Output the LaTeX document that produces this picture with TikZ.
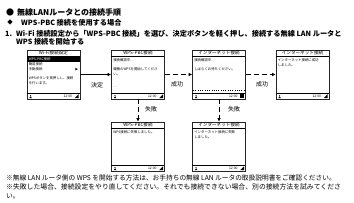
\documentclass[tikz,border=0pt]{standalone}
\usepackage{fontspec}
\setmainfont{Noto Sans CJK JP}
\usetikzlibrary{arrows.meta,calc}
\tikzset{
  scrbox/.style={draw=black!85, line width=0.8pt, minimum width=53pt, minimum height=49pt, inner sep=0pt, fill=white},
  stxt/.style={anchor=west, inner sep=0pt, font=\fontsize{3.4}{3.4}\selectfont},
  stitle/.style={inner sep=0pt, font=\fontsize{4.6}{4.6}\selectfont},
  hdr/.style={anchor=west, inner sep=0pt, font=\bfseries\fontsize{7.2}{7.2}\selectfont},
  foot/.style={anchor=west, inner sep=0pt, font=\fontsize{6.7}{6.7}\selectfont},
  lbl/.style={font=\fontsize{6}{6}\selectfont, inner sep=0pt},
  conn/.style={line width=0.9pt, -{Latex[length=3.5pt,width=3.5pt]}},
  dconn/.style={conn, dash pattern=on 5pt off 3pt},
}
% #1 name, #2 x centre, #3 y top, #4 title
\newcommand\mkscreen[4]{%
  \node[scrbox] (#1) at (#2,#3+24.5) {};
  \draw[line width=0.5pt] (#1.north west) ++(0,7) -- ++(53,0);
  \node[stitle] (#1-title) at ($(#1.north)+(0,3.6)$) {#4};
  \draw[line width=0.4pt] (#1.south west) ++(0,-6.5) -- ++(53,0);
  \fill ($(#1.south west)+(4,-3.6)$) circle (0.7pt);
  \fill ($(#1.south west)+(2.6,-1.2)$) -- ++(2.8,0) -- ++(-1.4,-1.8) -- cycle;
  \node[stxt] (#1-time) at ($(#1.south east)+(-17,-3.2)$) {12:00};
}
\newcommand\sigicon[1]{%
  \fill ($(#1.south east)+(-1.8,-1.2)$) -- ++(0,-4) -- ++(-4,4) -- cycle;
}
\begin{document}
\begin{tikzpicture}[x=1pt,y=-1pt]
\useasboundingbox (0,0) rectangle (354,202);
\fill[white] (0,0) rectangle (354,202);

% header
\node[anchor=west, inner sep=0pt, font=\bfseries\fontsize{8}{8}\selectfont] (h1) at (6,12.7) {●\hspace{3pt}無線LANルータとの接続手順};
\node[inner sep=0pt, font=\fontsize{5.5}{5.5}\selectfont] (h2a) at (10,22.7) {◆};
\node[hdr] (h2) at (21,22.7) {WPS-PBC 接続を使用する場合};
\node[hdr, anchor=base west] (h3a) at (5,36) {1.};
\node[hdr, anchor=base west] (h3) at (16,36) {Wi-Fi 接続設定から「WPS-PBC 接続」を選び、決定ボタンを軽く押し、接続する無線 LAN ルータと};
\node[hdr, anchor=base west] (h4) at (16,44.4) {WPS 接続を開始する};

% screen 1
\mkscreen{s1}{53.5}{50}{Wi-Fi接続設定}
\sigicon{s1}
\fill[black] ($(s1.north west)+(0,7)$) rectangle ($(s1.north east)+(0,12.5)$);
\node[stxt, text=white] (s1a) at ($(s1.north west)+(2,9.8)$) {WPS-PBC接続};
\node[stxt] (s1b) at ($(s1.north west)+(2,15)$) {簡易接続};
\node[stxt] (s1c) at ($(s1.north west)+(2,19.5)$) {手動接続};
\fill ($(s1.north east)+(-5,18.2)$) -- ++(2.4,1.3) -- ++(-2.4,1.3) -- cycle;
\node[stxt] (s1d) at ($(s1.north west)+(2,29)$) {WPSボタンを長押しし、接続};
\node[stxt] (s1e) at ($(s1.north west)+(2,33.5)$) {を行います。};

% screen 2
\mkscreen{s2}{138}{50}{WPS-PBC接続}
\sigicon{s2}
\node[stxt] (s2a) at ($(s2.north west)+(2,11)$) {接続確認中…};
\node[stxt] (s2b) at ($(s2.north west)+(2,20)$) {親機のWPSを開始してくださ};
\node[stxt] (s2c) at ($(s2.north west)+(2,24.5)$) {い。};
\node[stxt] (s2d) at ($(s2.north west)+(2,37.5)$) {…};

% screen 3
\mkscreen{s3}{219}{50}{インターネット接続}
\fill ($(s3.south east)+(-5.5,-1.4)$) rectangle ($(s3.south east)+(-2,-5)$);
\node[stxt] (s3a) at ($(s3.north west)+(2,11)$) {接続確認中…};
\node[stxt] (s3b) at ($(s3.north west)+(2,20)$) {しばらくお待ちください。};
\draw[line width=0.3pt, dotted] ($(s3.south west)+(1,-9.5)$) -- ($(s3.south east)+(-1,-9.5)$);

% screen 4
\mkscreen{s4}{302.5}{50}{インターネット接続}
\sigicon{s4}
\node[stxt] (s4a) at ($(s4.north west)+(2,11)$) {インターネット接続に成功};
\node[stxt] (s4b) at ($(s4.north west)+(2,15.5)$) {しました。};

% screen 5
\mkscreen{s5}{138}{122}{WPS-PBC接続}
\sigicon{s5}
\node[stxt] (s5a) at ($(s5.north west)+(2,11)$) {WPS接続に失敗しました。};

% screen 6
\mkscreen{s6}{219}{122}{インターネット接続}
\sigicon{s6}
\node[stxt] (s6a) at ($(s6.north west)+(2,11)$) {インターネット接続に失敗};
\node[stxt] (s6b) at ($(s6.north west)+(2,15.5)$) {しました。};

% connectors
\draw[conn] (s1) -- (s2);
\draw[dconn] (s2) -- (s3);
\draw[dconn] (s3) -- (s4);
\draw[dconn] (s2) -- (s5);
\draw[dconn] (s3) -- (s6);
\node[lbl] (l1) at (97,85) {決定};
\node[lbl] (l2) at (177,84) {成功};
\node[lbl] (l3) at (262,84) {成功};
\node[lbl] (l4) at (151,109) {失敗};
\node[lbl] (l5) at (234,109) {失敗};

% footer
\node[foot] (f1) at (6,178) {※無線 LAN ルータ側の WPS を開始する方法は、お手持ちの無線 LAN ルータの取扱説明書をご確認ください。};
\node[foot, font=\fontsize{6.85}{6.85}\selectfont] (f2) at (6,187) {※失敗した場合、接続設定をやり直してください。それでも接続できない場合、別の接続方法を試みてくださ};
\node[foot] (f3) at (6,196) {い。};
\end{tikzpicture}
\end{document}
